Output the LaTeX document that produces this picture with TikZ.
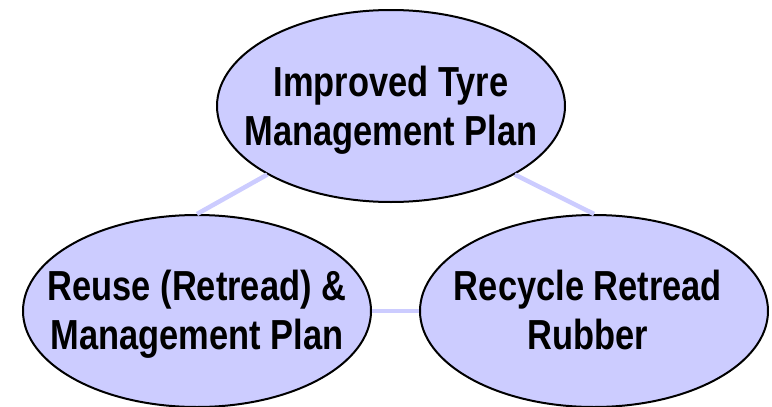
\documentclass[tikz,border=0pt]{standalone}
\usepackage{fontspec}
\setmainfont{Liberation Sans}[FakeStretch=0.82]
\usepackage{tikz}
\usetikzlibrary{shapes.geometric}
\usepackage{xcolor}
\definecolor{lavender}{RGB}{204,204,255}

\begin{document}
\begin{tikzpicture}[x=1pt, y=-1pt,
  bubble/.style={ellipse, draw=black, line width=2pt, fill=lavender,
    minimum width=348pt, minimum height=192pt, inner sep=0pt},
  caption/.style={align=center, inner sep=0pt,
    font=\bfseries\fontsize{42}{49}\selectfont},
  link/.style={draw=lavender, line width=4.5pt}]
\def\W{772}
\def\H{407}

\useasboundingbox (0,0) rectangle (\W, \H);

\node[bubble] (improved) at (391, 106) {};
\node[bubble] (reuse) at (197, 311) {};
\node[bubble] (recycle) at (594, 311) {};

\node[caption] (improvedtext) at (391, 110) {Improved Tyre\\Management Plan};
\node[caption] (reusetext) at (197, 314) {Reuse (Retread) \&\\Management Plan};
\node[caption] (recycletext) at (588, 310) {Recycle Retread\\Rubber};

\draw[link] (improved.south west) -- (reuse.north);
\draw[link] (improved.south east) -- (recycle.north);
\draw[link] (reuse.east) -- (recycle.west);
\end{tikzpicture}
\end{document}
